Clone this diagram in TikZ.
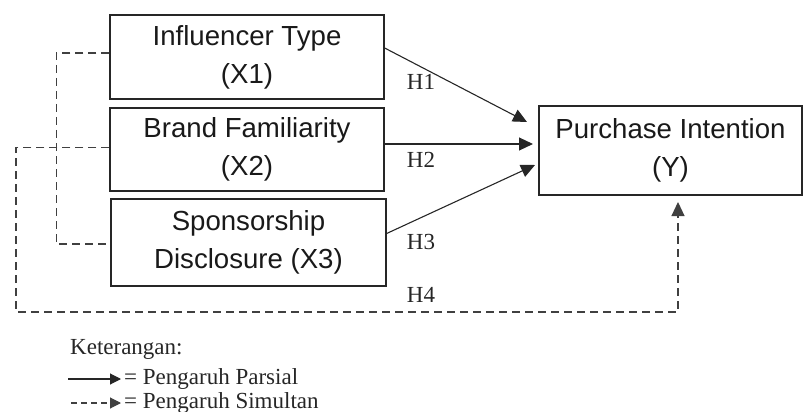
\documentclass[tikz,border=0pt]{standalone}
\usepackage{fontspec}
\setmainfont{Liberation Serif}
\newfontfamily\boxfont{Liberation Sans}
\usetikzlibrary{arrows.meta}

\tikzset{
  varbox/.style={draw=black!85, line width=1.3pt, minimum width=274pt, minimum height=84pt,
    inner sep=0pt, align=center, text=black!90, font=\boxfont\fontsize{27.6}{38}\selectfont},
  hlabel/.style={font=\fontsize{23}{26}\selectfont, text=black!85},
  bigtip/.style={-{Triangle[length=14pt,width=13pt]}},
  parsial/.style={draw=black!85, line width=1.1pt, bigtip},
  simultan/.style={draw=black!75, line width=1.1pt, dash pattern=on 8pt off 5pt},
}

\begin{document}
\begin{tikzpicture}[x=1pt, y=-1pt]
    \useasboundingbox (0,0) rectangle (804,412);

    % variables
    \node[varbox] (x1) at (247,57) {Influencer Type\\(X1)};
    \node[varbox, minimum height=83pt] (x2) at (247,149.5) {Brand Familiarity\\(X2)};
    \node[varbox, minimum width=275pt, minimum height=87pt] (x3) at (248.5,242.5) {Sponsorship\\Disclosure (X3)};
    \node[varbox, minimum width=263pt, minimum height=89pt] (yint) at (670.5,150.5) {Purchase Intention\\(Y)};

    % arrow ends in front of Y
    \coordinate (t1) at (527,122);
    \coordinate (t2) at (533,144);
    \coordinate (t3) at (535,165);
    \foreach \i/\dy in {1/9, 2/5.5, 3/9}
        \draw[parsial] ([yshift=\dy pt]x\i.east) -- (t\i);

    % simultaneous path (H4)
    \coordinate (bl) at (16,312);
    \coordinate (br) at (678,312);
    \coordinate (h4) at (678,202);
    \draw[simultan] ([yshift=4pt]x1.west) -- ++(-53,0) |- ([yshift=-1.5pt]x3.west);
    \draw[simultan, bigtip] ([yshift=2pt]x2.west) -| (bl) -- (br) -- (h4);

    \foreach \n/\y in {1/82, 2/160, 3/242, 4/295}
        \node[hlabel] (h\n) at (421,\y) {H\n};

    % legend
    \node[hlabel, anchor=west, inner xsep=2pt] (ket) at (68,349) {Keterangan:};
    \node[hlabel, anchor=west, inner xsep=3pt] (lpar) at (121,379) {= Pengaruh Parsial};
    \node[hlabel, anchor=west, inner xsep=3pt] (lsim) at (121,403) {= Pengaruh Simultan};
    \coordinate (p0) at (68,379);
    \coordinate (q0) at (71,403);
    \draw[black!85, line width=1.1pt, -{Triangle[length=11pt,width=11pt]}] (p0) -- (lpar.west);
    \draw[black!75, line width=1.1pt, dash pattern=on 6pt off 4pt, -{Triangle[length=11pt,width=11pt]}] (q0) -- (lsim.west);
\end{tikzpicture}
\end{document}
